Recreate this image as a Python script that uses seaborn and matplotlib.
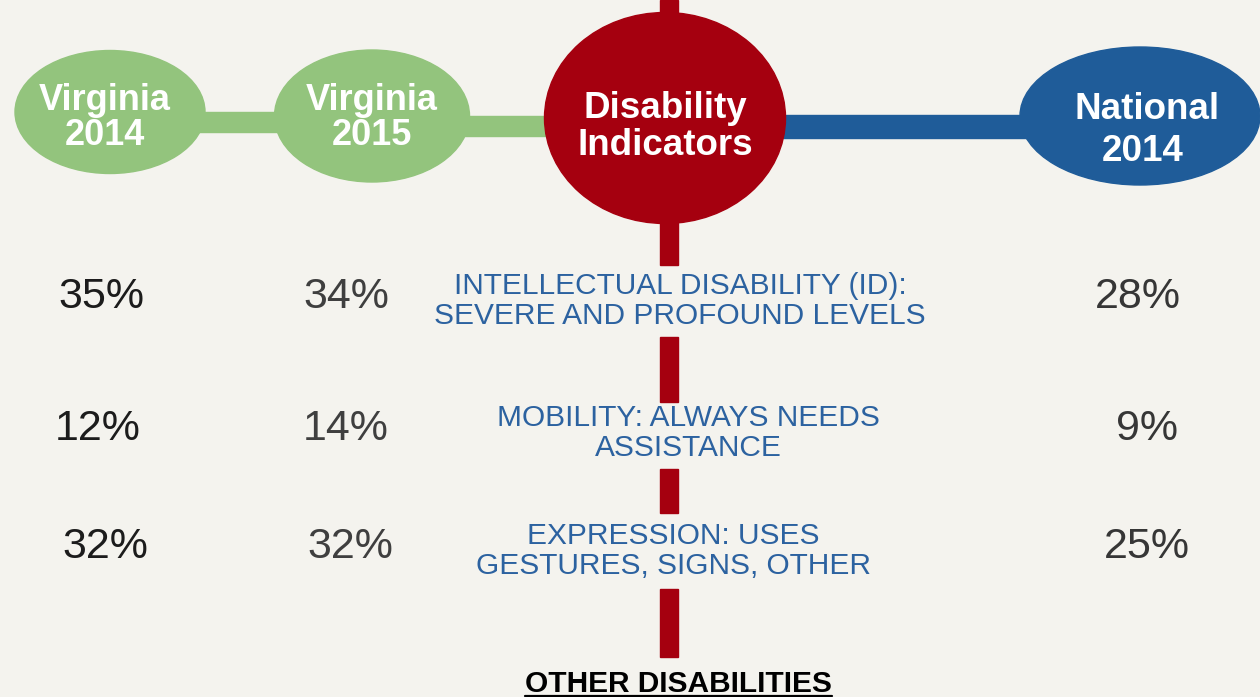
import numpy as np
import pandas as pd
import seaborn as sns
import matplotlib.pyplot as plt
from matplotlib.patches import Ellipse, Rectangle

groups = ["Virginia\n2014", "Virginia\n2015", "National\n2014"]
indicators = ["INTELLECTUAL DISABILITY (ID):\nSEVERE AND PROFOUND LEVELS",
              "MOBILITY: ALWAYS NEEDS\nASSISTANCE",
              "EXPRESSION: USES\nGESTURES, SIGNS, OTHER"]
va_2014 = [35, 12, 32]
va_2015 = [34, 14, 32]
national_2014 = [28, 9, 25]
footer = "OTHER DISABILITIES"

df = pd.DataFrame({
    "indicator": indicators * 3,
    "group": np.repeat(groups, 3),
    "value": va_2014 + va_2015 + national_2014,
})

# layout (pixel space of the 1260x697 picture)
col_x = {"Virginia\n2014": 101, "Virginia\n2015": 346, "National\n2014": 1138}
row_base = {indicators[0]: 308, indicators[1]: 440, indicators[2]: 558}
shift_x = {("Virginia\n2014", 1): -3, ("Virginia\n2014", 2): 4, ("Virginia\n2015", 2): 4,
           ("National\n2014", 1): 9, ("National\n2014", 2): 9}
label_pos = [(680, 301), (688, 433), (673, 551)]
num_colors = {"Virginia\n2014": "#1c1c1c", "Virginia\n2015": "#3f3f3f", "National\n2014": "#363636"}

bg = "#f4f3ee"
green = "#93c47d"
red = "#a5000f"
blue = "#1f5c99"
label_blue = "#2c62a0"

sns.set_theme(style="white")
plt.rcParams['font.family'] = ['Liberation Sans', 'DejaVu Sans']

fig = plt.figure(figsize=(12.6, 6.97), dpi=100, facecolor=bg)
ax = fig.add_axes([0, 0, 1, 1])
ax.set_facecolor(bg)
ax.set_xlim(0, 1260)
ax.set_ylim(697, 0)
ax.axis("off")

# red spine behind everything
for y0, y1 in [(0, 20), (215, 265), (337, 402), (469, 513), (589, 657)]:
    ax.add_patch(Rectangle((660, y0), 18, y1 - y0, color=red, zorder=1))

# connectors
ax.add_patch(Rectangle((195, 112), 90, 20, color=green, zorder=1))
ax.add_patch(Rectangle((462, 116), 90, 20, color=green, zorder=1))
ax.add_patch(Rectangle((775, 115), 260, 23, color=blue, zorder=1))

# header bubbles
ax.add_patch(Ellipse((110, 112), 190, 123, color=green, zorder=2))
ax.add_patch(Ellipse((372, 116), 195, 132, color=green, zorder=2))
ax.add_patch(Ellipse((665, 118), 241, 211, color=red, zorder=2))
ax.add_patch(Ellipse((1140, 116), 240, 138, color=blue, zorder=2))

hdr = dict(color="white", fontweight="bold", ha="center", va="baseline", zorder=3)
for g, x in zip(groups[:2], [105, 372]):
    top, bot = g.split("\n")
    ax.text(x, 110, top, fontsize=26, **hdr)
    ax.text(x, 145, bot, fontsize=26, **hdr)
ax.text(665, 118, "Disability", fontsize=26.5, **hdr)
ax.text(665, 155, "Indicators", fontsize=26.5, **hdr)
ax.text(1147, 119, "National", fontsize=26.5, **hdr)
ax.text(1143, 161, "2014", fontsize=26.5, **hdr)

# indicator labels
for lab, (x, y) in zip(indicators, label_pos):
    ax.text(x, y, lab, fontsize=21.5, color=label_blue, ha="center", va="center",
            linespacing=1.05, zorder=3)

# percentages
for _, r in df.iterrows():
    i = indicators.index(r["indicator"])
    x = col_x[r["group"]] + shift_x.get((r["group"], i), 0)
    ax.text(x, row_base[r["indicator"]], f"{r['value']}%", fontsize=31,
            color=num_colors[r["group"]], ha="center", va="baseline", zorder=3)

ax.text(678, 692, footer, fontsize=21.5, fontweight="bold", color="black",
        ha="center", va="baseline", zorder=3)
ax.plot([525, 832], [695.5, 695.5], color="black", lw=1.6, zorder=3)

fig.savefig("out.png", dpi=100, facecolor=bg)
